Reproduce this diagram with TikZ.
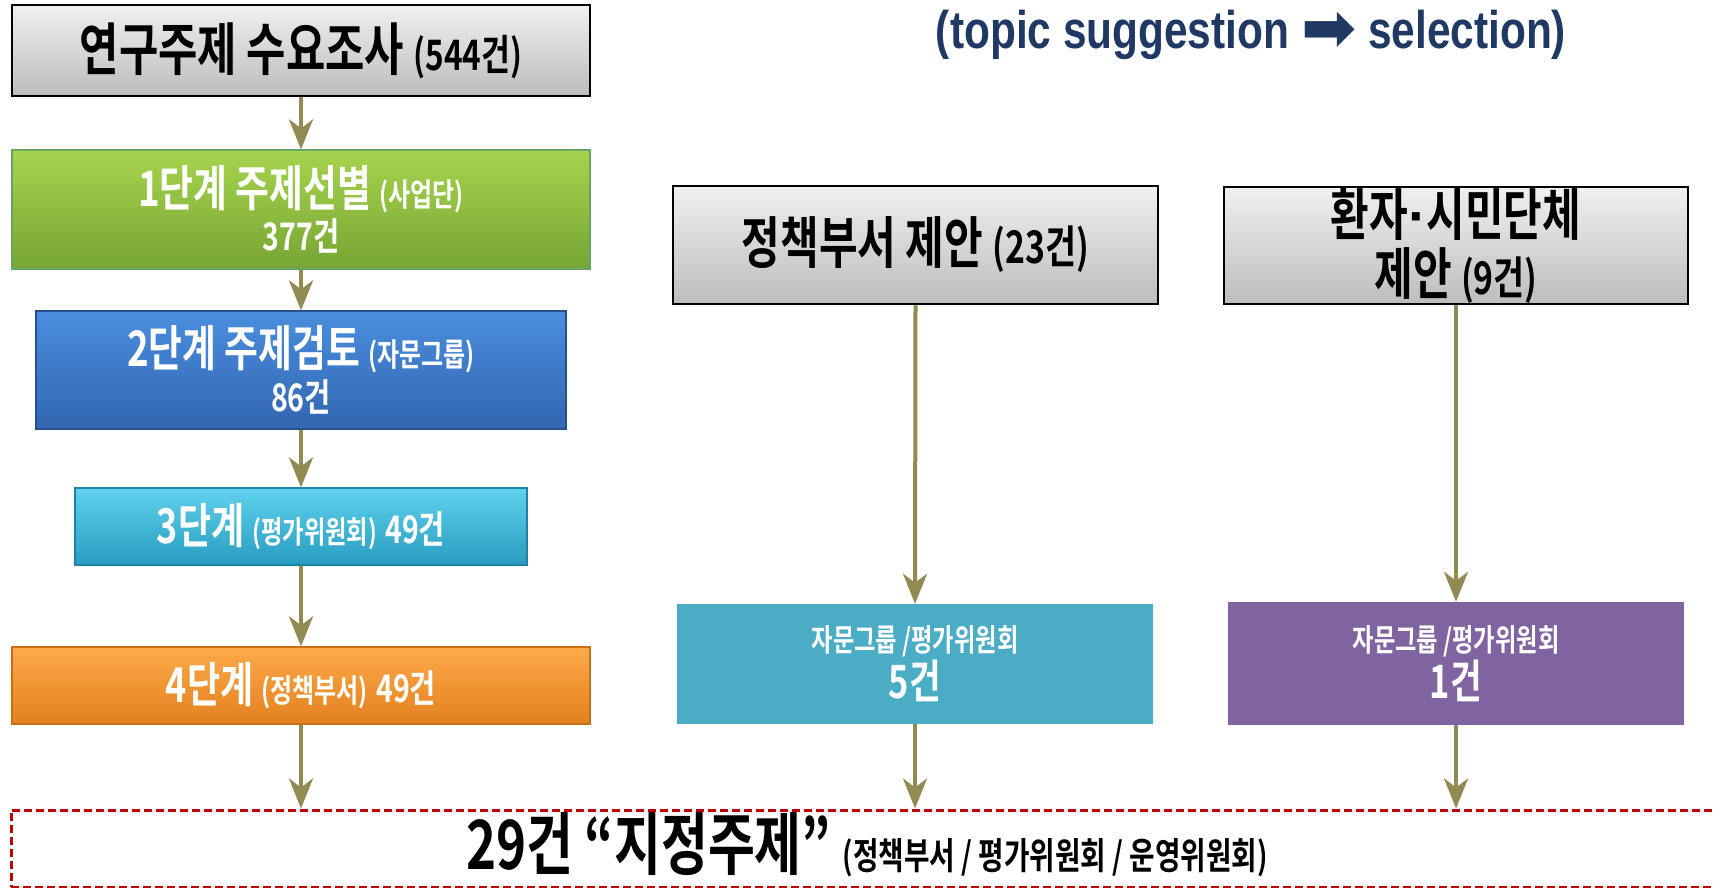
\documentclass[tikz,border=0pt]{standalone}
\usepackage{fontspec}
\setmainfont{Liberation Sans}
\newfontfamily\kr[FakeStretch=0.75,BoldFont={Noto Sans CJK KR Bold}]{Noto Sans CJK KR}
\newfontfamily\ttl[FakeStretch=0.8]{Liberation Sans}
\newfontfamily\sym{DejaVu Sans}
\usetikzlibrary{arrows.meta}
\definecolor{arr}{HTML}{938953}
\definecolor{navy}{HTML}{1F3864}
\definecolor{dred}{HTML}{C00000}
\newcommand{\kfs}[1]{\fontsize{#1}{#1}\selectfont}
\tikzset{
  flow/.style={draw=arr, line width=4pt, -{Stealth[length=30pt,width=24pt,inset=9pt]}},
  graybox/.style={draw=black, line width=2.5pt, top color=white!94!black, bottom color=white!74!black, inner sep=0pt, text=black, font=\kr\bfseries, align=center},
  bevel/.style={line width=1.2pt, inner sep=0pt, text=white, font=\kr\bfseries, align=center},
  flatbox/.style={draw=none, inner sep=0pt, text=white, font=\kr\bfseries, align=center},
}
\begin{document}
\begin{tikzpicture}[x=1pt,y=-1pt]
\useasboundingbox (0,0) rectangle (1713,888);
% title
\node[text=navy, font=\ttl\bfseries\kfs{53}] (title) at (1251,35) {(topic suggestion {\sym\kfs{66}\raisebox{-2pt}{➡}} selection)};
% left column
\node[graybox, minimum width=578pt, minimum height=91pt] (s0) at (301,50.5)
  {\kfs{57}연구주제 수요조사 {\kfs{42}(544건)}};
\node[bevel, draw=green!40!black!60!white, top color={rgb,255:red,166;green,212;blue,78}, bottom color={rgb,255:red,118;green,166;blue,52}, minimum width=578pt, minimum height=119pt] (s1) at (301,209.5)
  {\kfs{49}1단계 주제선별 {\kfs{32}(사업단)}\\[5pt]\kfs{38}377건};
\node[bevel, draw={rgb,255:red,40;green,80;blue,140}, top color={rgb,255:red,74;green,142;blue,222}, bottom color={rgb,255:red,50;green,102;blue,176}, minimum width=530pt, minimum height=118pt] (s2) at (301,370)
  {\kfs{49}2단계 주제검토 {\kfs{32}(자문그룹)}\\[5pt]\kfs{38}86건};
\node[bevel, draw={rgb,255:red,30;green,130;blue,165}, top color={rgb,255:red,96;green,210;blue,238}, bottom color={rgb,255:red,40;green,156;blue,192}, minimum width=452pt, minimum height=77pt] (s3) at (301,526.5)
  {\kfs{48}3단계 {\kfs{31}(평가위원회)} {\kfs{38}49건}};
\node[bevel, draw={rgb,255:red,200;green,110;blue,20}, top color={rgb,255:red,252;green,170;blue,74}, bottom color={rgb,255:red,228;green,128;blue,30}, minimum width=578pt, minimum height=77pt] (s4) at (301,685.5)
  {\kfs{48}4단계 {\kfs{32}(정책부서)} {\kfs{38}49건}};
% middle column
\node[graybox, minimum width=485pt, minimum height=118pt] (p0) at (915.5,245)
  {\kfs{56}정책부서 제안 {\kfs{45}(23건)}};
\node[flatbox, fill={rgb,255:red,75;green,172;blue,198}, minimum width=476pt, minimum height=120pt] (p1) at (915,664)
  {\kfs{31}자문그룹 /평가위원회\\[2pt]\kfs{46}5건};
% right column
\node[graybox, minimum width=464pt, minimum height=117pt] (c0) at (1456,245.5)
  {\kfs{56}환자{\rmfamily\bfseries ·}시민단체\\[6pt]\kfs{56}제안 {\kfs{45}(9건)}};
\node[flatbox, fill={rgb,255:red,128;green,100;blue,162}, minimum width=456pt, minimum height=123pt] (c1) at (1456,663.5)
  {\kfs{31}자문그룹 /평가위원회\\[2pt]\kfs{46}1건};
% result box
\node[draw=dred, line width=3pt, dash pattern=on 8pt off 4pt, minimum width=1712pt, minimum height=77pt, inner sep=0pt] (res) at (867,848.5) {};
\node[font=\kr\bfseries, text=black] (restext) at (867,845)
  {\kfs{68}29건 “지정주제” {\kfs{37}(정책부서 / 평가위원회 / 운영위원회)}};
% connectors
\draw[flow] (s0.south) -- (s1.north);
\draw[flow] (s1.south) -- (s2.north);
\draw[flow] (s2.south) -- (s3.north);
\draw[flow] (s3.south) -- (s4.north);
\draw[flow] (s4.south) -- (s4.south |- res.north);
\draw[flow] (p0.south) -- (p1.north);
\draw[flow] (p1.south) -- (p1.south |- res.north);
\draw[flow] (c0.south) -- (c1.north);
\draw[flow] (c1.south) -- (c1.south |- res.north);
\end{tikzpicture}
\end{document}
